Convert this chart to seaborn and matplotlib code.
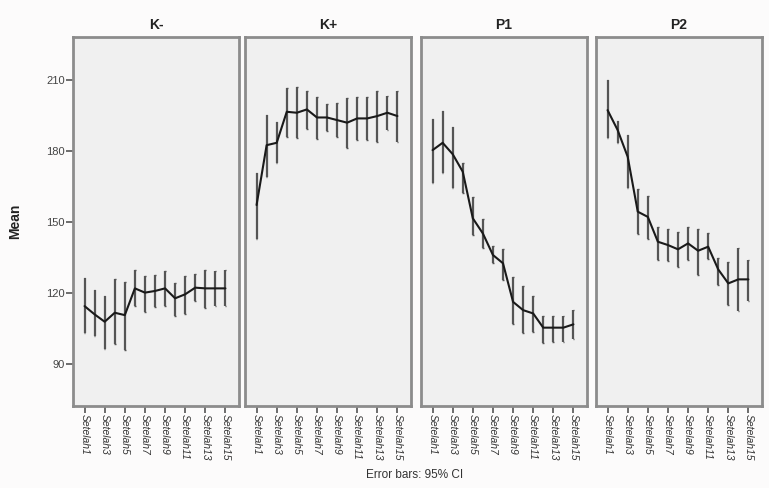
import matplotlib
matplotlib.use("Agg")
import matplotlib.pyplot as plt
import seaborn as sns
import pandas as pd
import numpy as np

groups = ["K-", "K+", "P1", "P2"]
times = [f"Setelah{i}" for i in range(1, 16)]

mean_km = [114.5, 111.0, 107.9, 111.7, 110.7, 122.0, 120.2, 120.9, 122.0, 117.8, 119.5, 122.3, 122.0, 122.0, 122.0]
lo_km = [103.2, 101.8, 96.2, 98.5, 95.9, 114.5, 112.1, 114.2, 114.5, 110.3, 111.0, 116.8, 113.5, 114.5, 114.5]
hi_km = [126.2, 121.3, 118.9, 125.8, 124.5, 129.7, 127.3, 127.6, 129.4, 124.1, 127.3, 127.9, 129.7, 129.4, 129.7]

mean_kp = [157.2, 182.5, 183.5, 196.6, 196.2, 197.6, 194.2, 194.2, 193.1, 192.0, 193.8, 193.8, 194.8, 196.2, 194.8]
lo_kp = [142.7, 169.2, 174.8, 186.1, 185.4, 189.3, 185.0, 188.6, 185.8, 181.4, 184.7, 184.7, 184.0, 188.9, 184.0]
hi_kp = [170.8, 195.2, 192.4, 206.5, 206.9, 205.5, 203.0, 199.9, 200.5, 202.5, 203.0, 203.0, 205.4, 203.2, 205.4]

mean_p1 = [180.4, 183.5, 178.7, 171.3, 151.6, 145.2, 136.1, 132.6, 116.3, 112.8, 111.4, 105.4, 105.4, 105.4, 106.8]
lo_p1 = [166.4, 170.6, 164.5, 162.1, 144.5, 138.9, 132.6, 125.5, 106.8, 103.0, 103.7, 99.0, 99.3, 99.3, 100.8]
hi_p1 = [193.4, 196.9, 190.3, 174.8, 160.7, 151.2, 139.9, 138.5, 126.9, 123.0, 118.9, 110.4, 110.4, 110.4, 112.8]

mean_p2 = [197.3, 188.9, 177.6, 154.4, 152.2, 141.7, 140.3, 138.5, 141.0, 137.9, 139.6, 130.0, 124.1, 125.8, 125.8]
lo_p2 = [185.4, 183.5, 164.2, 144.9, 142.7, 134.0, 133.5, 130.9, 134.0, 127.6, 134.2, 123.4, 115.0, 112.5, 116.8]
hi_p2 = [210.0, 192.8, 186.8, 163.8, 161.0, 148.0, 147.0, 145.9, 148.0, 147.0, 145.5, 134.7, 133.0, 138.9, 134.0]

means = [mean_km, mean_kp, mean_p1, mean_p2]
los = [lo_km, lo_kp, lo_p1, lo_p2]
his = [hi_km, hi_kp, hi_p1, hi_p2]

rows = []
for g, m, lo, hi in zip(groups, means, los, his):
    for i, t in enumerate(times):
        rows.append(dict(group=g, time=t, pos=i, mean=m[i], lo=lo[i], hi=hi[i]))
df = pd.DataFrame(rows)

sns.set_theme(style="white")
plt.rcParams['font.family'] = ['Liberation Sans', 'DejaVu Sans']

W, H = 769, 488
fig = plt.figure(figsize=(W / 100, H / 100), dpi=100)
fig.patch.set_facecolor("#fcfbfb")

lefts = [73, 245, 421, 596]
width = 166
top_px, bot_px = 37, 406

axes = []
for k, g in enumerate(groups):
    ax = fig.add_axes([lefts[k] / W, 1 - bot_px / H, width / W, (bot_px - top_px) / H])
    axes.append(ax)
    sub = df[df.group == g]
    ax.set_facecolor("#f0f0f0")
    ax.vlines(sub["pos"], sub["lo"], sub["hi"], color="#555555", lw=1.6, zorder=2)
    ax.hlines(sub["lo"], sub["pos"] - 0.08, sub["pos"] + 0.08, color="#555555", lw=1.0, zorder=2)
    ax.hlines(sub["hi"], sub["pos"] - 0.08, sub["pos"] + 0.08, color="#555555", lw=1.0, zorder=2)
    sns.lineplot(data=sub, x="pos", y="mean", ax=ax, color="#1a1a1a", lw=1.5,
                 errorbar=None, zorder=3)
    ax.set_xlim(-1.15, 15.35)
    ax.set_ylim(72.3, 228.2)
    ax.set_xticks(list(range(0, 15, 2)))
    ax.set_xticklabels([times[i] for i in range(0, 15, 2)], rotation=-90,
                       fontsize=7.5, color="#333333", fontstyle="italic")
    ax.tick_params(axis="x", length=5, width=1.2, color="#555555", pad=1, bottom=True)
    ax.set_yticks([90, 120, 150, 180, 210])
    if k == 0:
        ax.set_yticklabels(["90", "120", "150", "180", "210"], fontsize=8, color="#444444")
        ax.tick_params(axis="y", length=5, width=1.2, color="#555555", pad=1, left=True)
        ax.set_ylabel("Mean", fontsize=10, fontweight="bold", color="#222222", labelpad=17)
    else:
        ax.set_yticklabels([])
        ax.tick_params(axis="y", length=0, left=False)
        ax.set_ylabel("")
    ax.set_xlabel("")
    for s in ax.spines.values():
        s.set_visible(True)
        s.set_color("#8c8c8c")
        s.set_linewidth(2.0)
    ax.set_title(g, fontsize=10, fontweight="bold", color="#222222", pad=6)

fig.text(415 / W, 1 - 475 / H, "Error bars: 95% CI", ha="center", va="center",
         fontsize=8.5, color="#333333")

fig.savefig("out.png", dpi=100, facecolor=fig.get_facecolor())
